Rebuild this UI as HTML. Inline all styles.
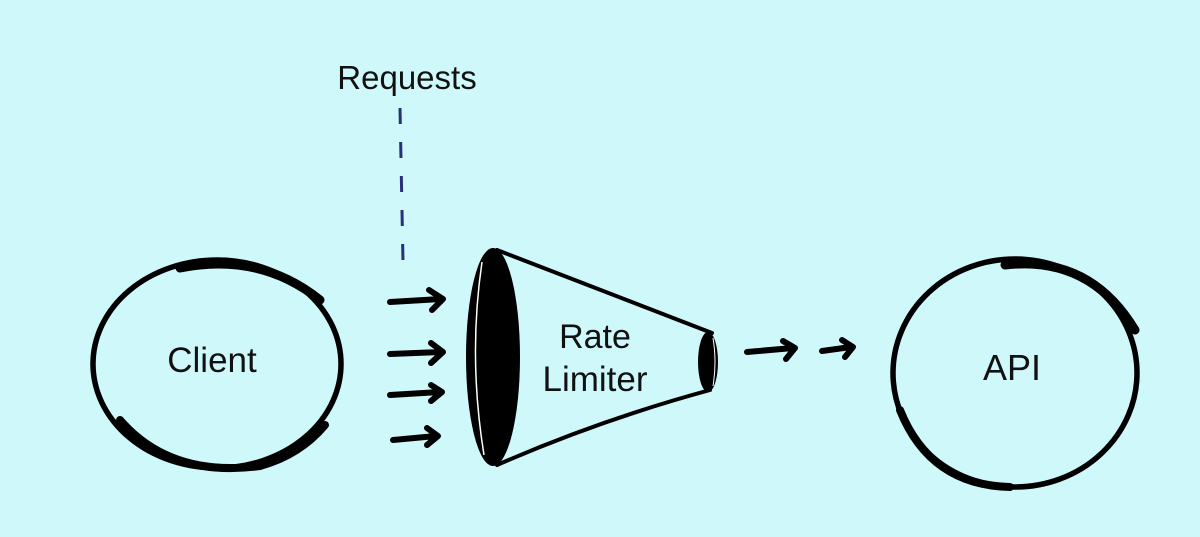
<!DOCTYPE html>
<html><head><style>
body{margin:0;background:#cff8fb;}
svg{display:block}
text{font-family:"Liberation Sans",sans-serif;fill:#111}
</style></head><body>
<svg width="1200" height="537" viewBox="0 0 1200 537">
<rect width="1200" height="537" fill="#cff8fb"/>
<g fill="none" stroke="#000" stroke-linecap="round">
<ellipse cx="217" cy="364" rx="124" ry="104" stroke-width="5.5"/>
<path d="M180 268 Q260 252 320 300" stroke-width="9"/>
<path d="M120 420 Q170 478 260 466 Q300 455 325 425" stroke-width="8"/>
<ellipse cx="1015" cy="373" rx="122" ry="114" stroke-width="5.5"/>
<path d="M1005 265 Q1090 255 1135 330" stroke-width="9"/>
<path d="M900 410 Q930 485 1010 487" stroke-width="8"/>
</g>
<line x1="400" y1="108" x2="403" y2="262" stroke="#2a2f7a" stroke-width="3" stroke-dasharray="16,18"/>
<text x="407" y="89" font-size="33" text-anchor="middle">Requests</text>
<g fill="none" stroke="#000" stroke-width="6" stroke-linecap="round" stroke-linejoin="round">
<path d="M390 302 L441 299 M429 290 L443 299 L432 310"/>
<path d="M390 354 L441 352 M431 343 L443 352 L431 363"/>
<path d="M390 395 L440 392 M431 385 L442 392 L431 401"/>
<path d="M393 440 L436 436 M427 428 L438 436 L427 445"/>
<path d="M747 352 L793 348 M783 341 L795 348 L786 359"/>
<path d="M822 351 L851 347 M842 340 L853 347 L845 357"/>
</g>
<g fill="none" stroke="#000" stroke-width="4" stroke-linecap="round">
<path d="M497 250 Q600 290 712 333"/>
<path d="M497 465 Q600 420 710 390"/>
</g>
<ellipse cx="493" cy="357" rx="27" ry="109" fill="#000"/>
<path d="M482 262 Q468 357 484 455" fill="none" stroke="#fff" stroke-width="1.5"/>
<ellipse cx="708" cy="362" rx="10" ry="30" fill="#000"/>
<path d="M713 338 Q717 362 713 386" fill="none" stroke="#fff" stroke-width="1"/>
<text x="595" y="348" font-size="34" text-anchor="middle">Rate</text>
<text x="595" y="391" font-size="35" text-anchor="middle">Limiter</text>
<text x="212" y="372" font-size="35" text-anchor="middle">Client</text>
<text x="1012" y="380" font-size="36" text-anchor="middle">API</text>
</svg>
</body></html>
